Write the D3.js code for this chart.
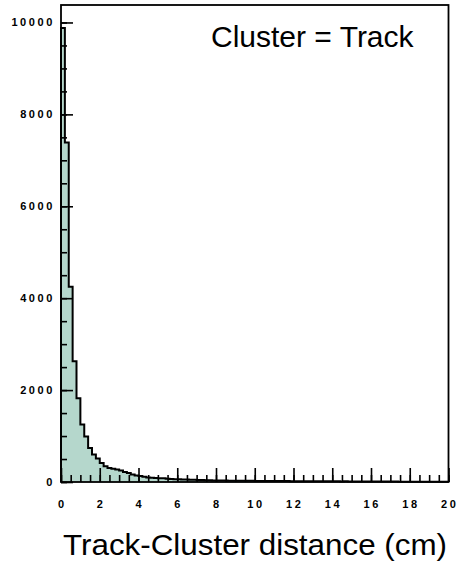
<!DOCTYPE html>
<html>
<head>
<meta charset="utf-8">
<script src="https://cdn.jsdelivr.net/npm/d3@7/dist/d3.min.js"></script>
<style>
  html, body { margin: 0; padding: 0; background: #fff; }
  svg { display: block; }
  .tick-label { font-family: "Liberation Sans", Arial, sans-serif; font-weight: bold; font-size: 11px; letter-spacing: 2.6px; fill: #000; }
  .big-text { font-family: "Liberation Sans", Arial, sans-serif; font-size: 30px; fill: #000; }
</style>
</head>
<body>
<svg id="chart" width="458" height="566"></svg>
<script>
// Histogram of track-cluster distance, 100 bins of 0.2 cm from 0 to 20 cm
const binWidth = 0.2;
const binStart = 0;
const counts = [
  9880, 7390, 4250, 2630, 1820, 1250, 990, 740, 600, 510,
  415, 345, 305, 290, 270, 250, 215, 195, 165, 140,
  130, 115, 100, 92, 88, 84, 80, 72, 66, 62,
  58, 55, 52, 50, 48, 45, 42, 40, 36, 34,
  32, 31, 30, 29, 28, 27, 27, 26, 25, 25,
  24, 24, 23, 22, 23, 21, 21, 20, 20, 19,
  19, 18, 18, 17, 18, 16, 16, 15, 16, 15,
  14, 14, 13, 14, 13, 12, 12, 12, 11, 11,
  11, 10, 10, 10, 9, 9, 9, 8, 8, 8,
  8, 7, 7, 7, 6, 6, 6, 5, 5, 5
];

// Axis ticks
const xMajorTicks = [0, 2, 4, 6, 8, 10, 12, 14, 16, 18, 20];
const xMinorTicks = d3.range(0, 20.001, 0.5);
const yMajorTicks = [0, 2000, 4000, 6000, 8000, 10000];
const yMinorTicks = d3.range(0, 10001, 500);

const labelText = "Cluster = Track";
const xTitle = "Track-Cluster distance (cm)";

const svg = d3.select("#chart");

const frame = { left: 61, right: 448.5, top: 5, bottom: 482 };

const x = d3.scaleLinear().domain([0, 20]).range([frame.left, frame.right]);
const y = d3.scaleLinear().domain([0, 10380]).range([frame.bottom, frame.top]);

// Bin edges for a step outline
const pts = counts.map((c, i) => ({ x: binStart + i * binWidth, v: c }));
pts.push({ x: binStart + counts.length * binWidth, v: counts[counts.length - 1] });

const area = d3.area()
  .x(d => x(d.x))
  .y0(y(0))
  .y1(d => y(d.v))
  .curve(d3.curveStepAfter);

svg.append("path")
  .datum(pts)
  .attr("d", area)
  .attr("fill", "#b5d7cc")
  .attr("stroke", "none");

// Outline: rise from baseline, follow the bin tops
const outline = d3.line()
  .x(d => x(d.x))
  .y(d => y(d.v))
  .curve(d3.curveStepAfter);

const outlinePts = [{ x: 0, v: 0 }].concat(pts);
svg.append("path")
  .datum(outlinePts)
  .attr("d", outline)
  .attr("fill", "none")
  .attr("stroke", "#000")
  .attr("stroke-width", 2)
  .attr("stroke-linejoin", "miter");

// Inward ticks
function styleAxis(g) {
  g.select(".domain").remove();
  g.selectAll(".tick line").attr("stroke", "#000").attr("stroke-width", 1.6);
  g.selectAll(".tick text").remove();
}

svg.append("g")
  .attr("transform", `translate(0,${frame.bottom})`)
  .call(d3.axisBottom(x).tickValues(xMinorTicks).tickSize(-7).tickFormat(""))
  .call(styleAxis);
svg.append("g")
  .attr("transform", `translate(0,${frame.bottom})`)
  .call(d3.axisBottom(x).tickValues(xMajorTicks).tickSize(-14).tickFormat(""))
  .call(styleAxis);
svg.append("g")
  .attr("transform", `translate(${frame.left},0)`)
  .call(d3.axisLeft(y).tickValues(yMinorTicks).tickSize(-6).tickFormat(""))
  .call(styleAxis);
svg.append("g")
  .attr("transform", `translate(${frame.left},0)`)
  .call(d3.axisLeft(y).tickValues(yMajorTicks).tickSize(-12).tickFormat(""))
  .call(styleAxis);

// Frame
svg.append("rect")
  .attr("x", frame.left)
  .attr("y", frame.top)
  .attr("width", frame.right - frame.left)
  .attr("height", frame.bottom - frame.top)
  .attr("fill", "none")
  .attr("stroke", "#000")
  .attr("stroke-width", 1.8);

// Tick labels
svg.append("g").selectAll("text")
  .data(yMajorTicks)
  .join("text")
  .attr("class", "tick-label")
  .attr("x", 55)
  .attr("y", d => y(d) + 4)
  .attr("text-anchor", "end")
  .text(d => d);

svg.append("g").selectAll("text")
  .data(xMajorTicks)
  .join("text")
  .attr("class", "tick-label")
  .attr("x", d => x(d) + 1.3)
  .attr("y", 508)
  .attr("text-anchor", "middle")
  .text(d => d);

// In-plot label
svg.append("text")
  .attr("class", "big-text")
  .attr("x", 211)
  .attr("y", 47)
  .text(labelText);

// Axis title
svg.append("text")
  .attr("class", "big-text")
  .attr("x", 63)
  .attr("y", 555)
  .attr("textLength", 384)
  .attr("lengthAdjust", "spacingAndGlyphs")
  .text(xTitle);
</script>
</body>
</html>
